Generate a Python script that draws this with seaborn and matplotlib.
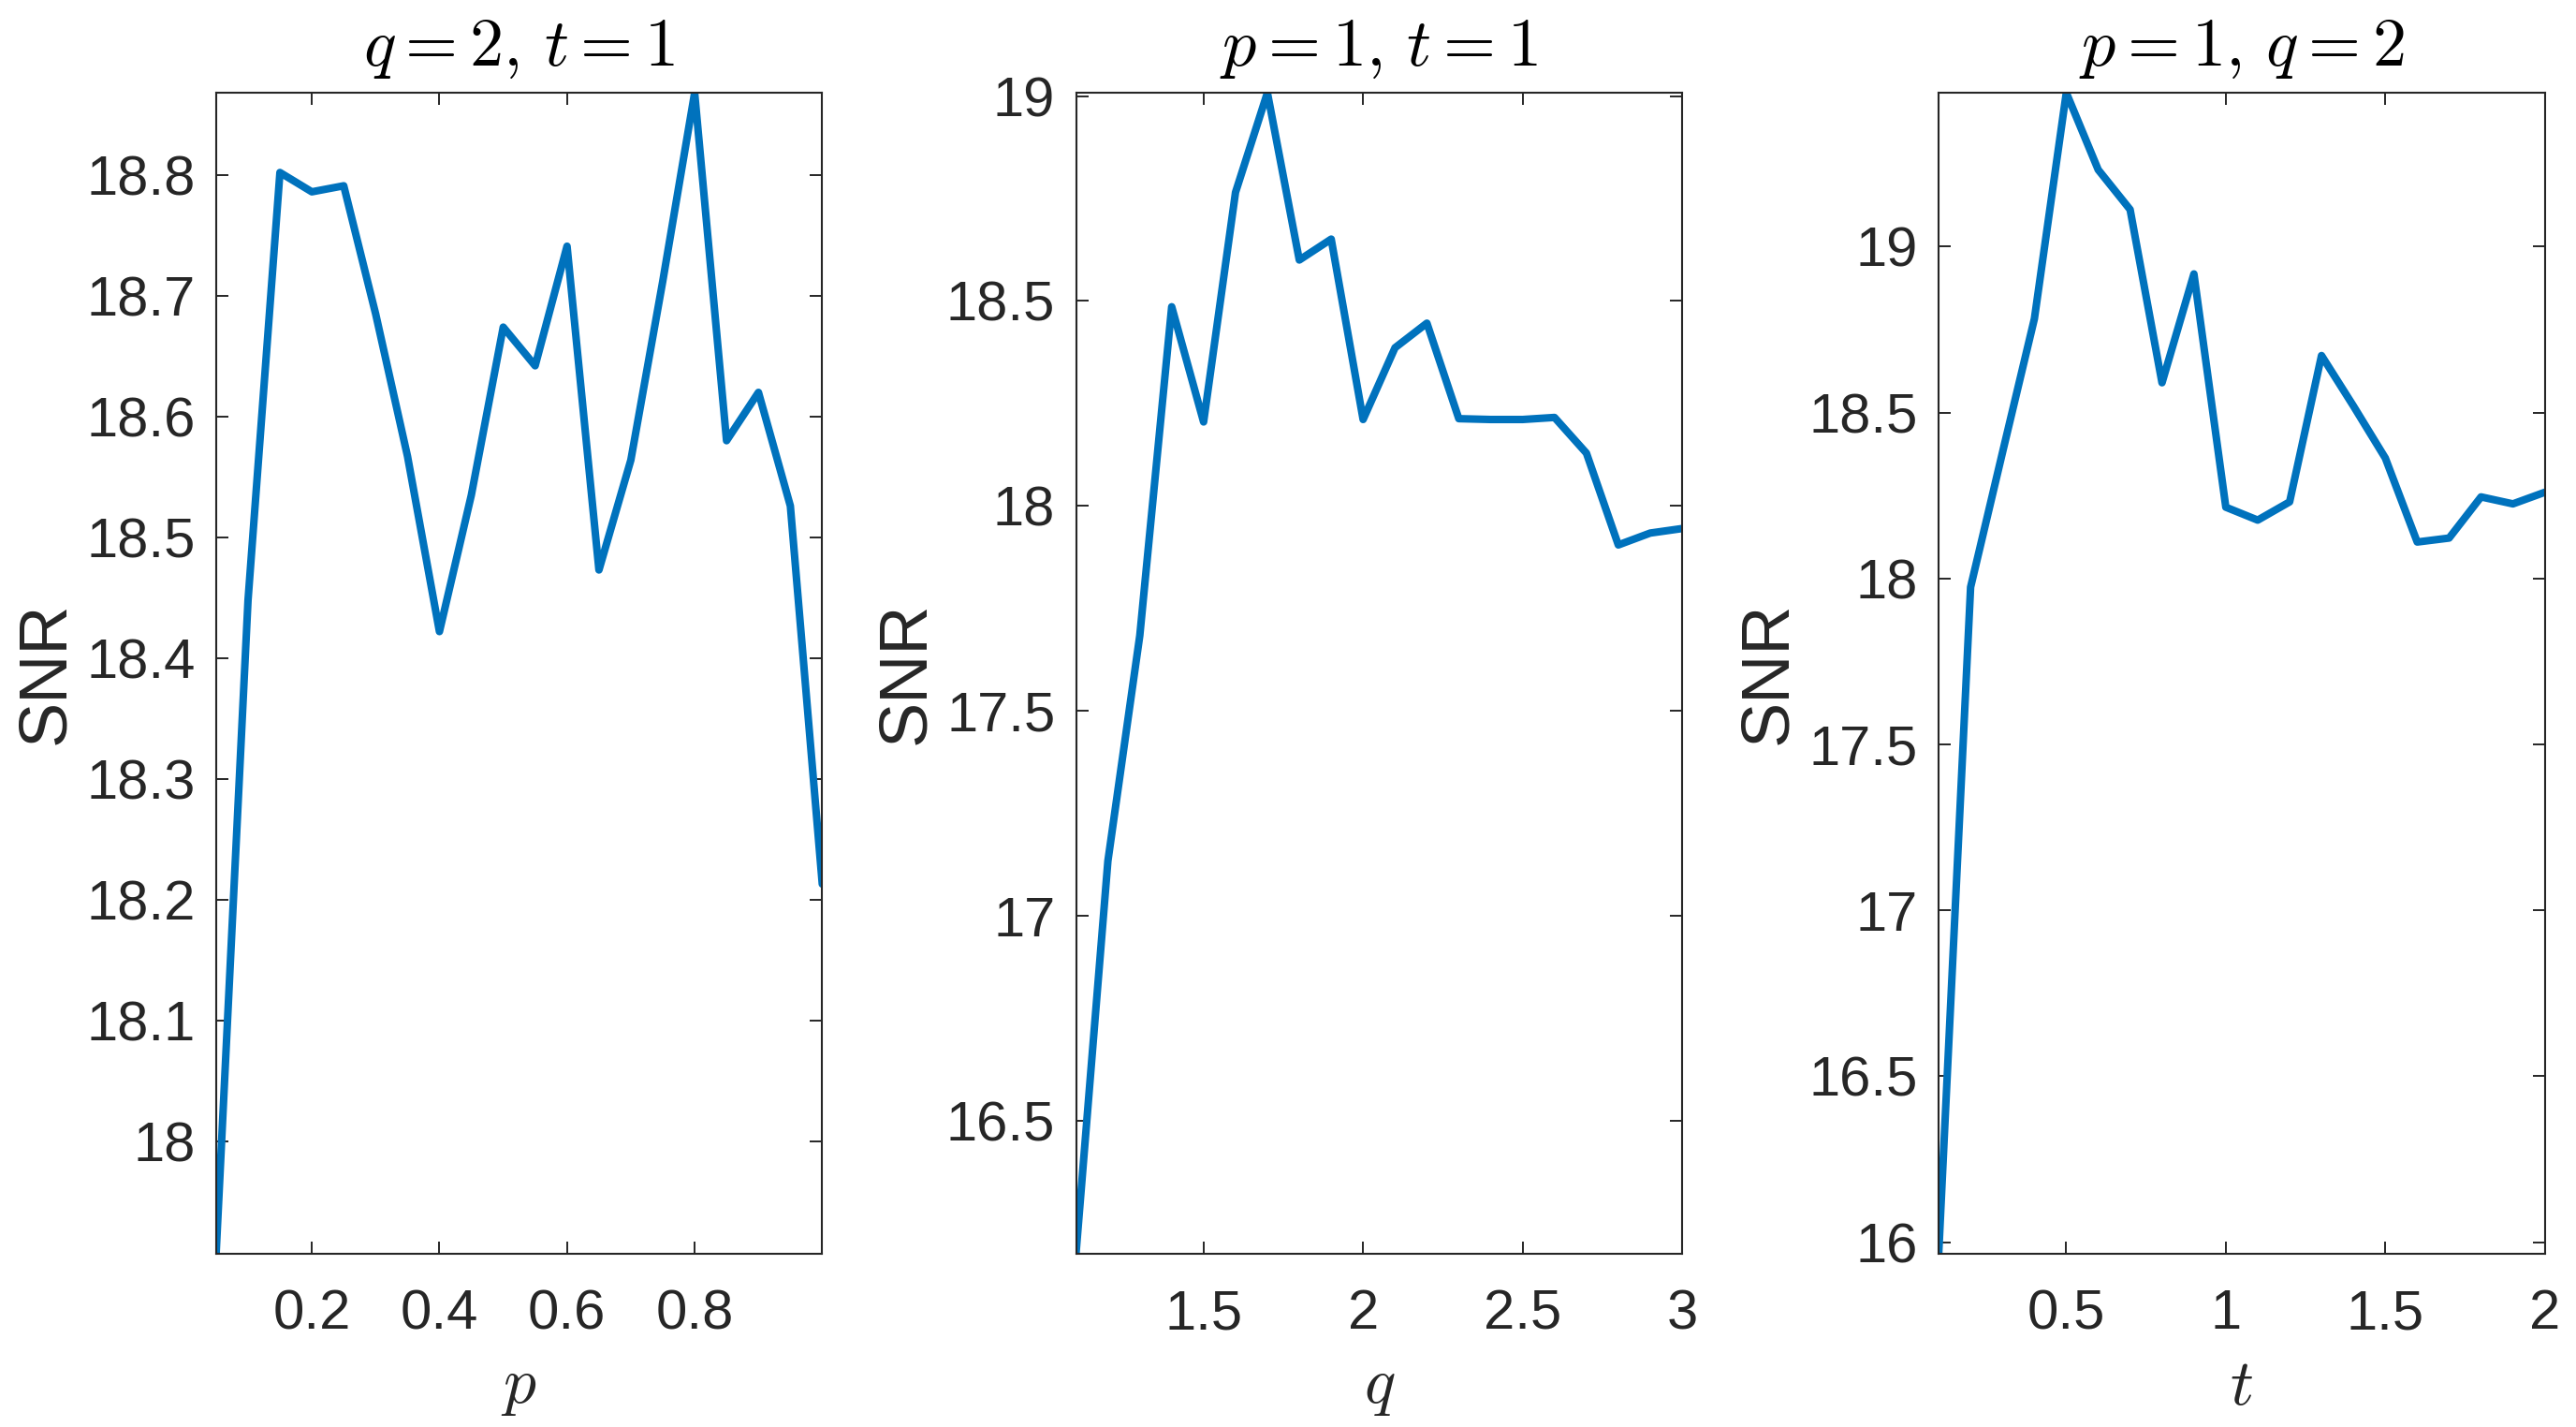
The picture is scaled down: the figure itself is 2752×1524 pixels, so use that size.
import seaborn as sns
import matplotlib.pyplot as plt
import pandas as pd
from matplotlib.ticker import FuncFormatter

# sweep values
p_vals = [0.05, 0.10, 0.15, 0.20, 0.25, 0.30, 0.35, 0.40, 0.45, 0.50,
          0.55, 0.60, 0.65, 0.70, 0.75, 0.80, 0.85, 0.90, 0.95, 1.00]
snr_p = [17.907, 18.448, 18.802, 18.786, 18.791, 18.685, 18.567, 18.422, 18.535, 18.674,
         18.642, 18.741, 18.473, 18.564, 18.712, 18.868, 18.580, 18.620, 18.526, 18.213]

q_vals = [1.1, 1.2, 1.3, 1.4, 1.5, 1.6, 1.7, 1.8, 1.9, 2.0,
          2.1, 2.2, 2.3, 2.4, 2.5, 2.6, 2.7, 2.8, 2.9, 3.0]
snr_q = [16.176, 17.134, 17.684, 18.486, 18.205, 18.765, 19.008, 18.600, 18.651, 18.211,
         18.386, 18.446, 18.213, 18.211, 18.211, 18.216, 18.129, 17.905, 17.934, 17.945]

t_vals = [0.1, 0.2, 0.3, 0.4, 0.5, 0.6, 0.7, 0.8, 0.9, 1.0,
          1.1, 1.2, 1.3, 1.4, 1.5, 1.6, 1.7, 1.8, 1.9, 2.0]
snr_t = [15.965, 17.974, 18.380, 18.783, 19.464, 19.232, 19.112, 18.590, 18.918, 18.215,
         18.176, 18.231, 18.672, 18.520, 18.363, 18.110, 18.122, 18.246, 18.225, 18.260]

titles = [r'$q=2,\,t=1$', r'$p=1,\,t=1$', r'$p=1,\,q=2$']
xlabels = [r'$p$', r'$q$', r'$t$']
xticks = [[0.2, 0.4, 0.6, 0.8], [1.5, 2, 2.5, 3], [0.5, 1, 1.5, 2]]
yticks = [[18.0, 18.1, 18.2, 18.3, 18.4, 18.5, 18.6, 18.7, 18.8],
          [16.5, 17, 17.5, 18, 18.5, 19],
          [16, 16.5, 17, 17.5, 18, 18.5, 19]]

sns.set_style("ticks")
plt.rcParams['font.family'] = ['Liberation Sans', 'DejaVu Sans']
plt.rcParams['mathtext.fontset'] = 'cm'

fig = plt.figure(figsize=(27.52, 15.24), dpi=100)
lefts = [0.0839, 0.4177, 0.7526]

series = [(p_vals, snr_p), (q_vals, snr_q), (t_vals, snr_t)]
for i, (xs, ys) in enumerate(series):
    ax = fig.add_axes([lefts[i], 0.1214, 0.2353, 0.8136])
    df = pd.DataFrame({'x': xs, 'snr': ys})
    sns.lineplot(data=df, x='x', y='snr', ax=ax, color='#0072BD', linewidth=5.8)
    ax.set_xlim(min(xs), max(xs))
    ax.set_ylim(min(ys), max(ys))
    ax.set_xticks(xticks[i])
    ax.set_yticks(yticks[i])
    fmt = FuncFormatter(lambda v, pos: ('%g' % round(v, 2)))
    ax.xaxis.set_major_formatter(fmt)
    ax.yaxis.set_major_formatter(fmt)
    ax.tick_params(axis='both', direction='in', length=9.5, width=1.4,
                   labelsize=43, colors='#262626', top=True, right=True)
    ax.tick_params(axis='x', pad=27)
    ax.tick_params(axis='y', pad=16)
    for s in ax.spines.values():
        s.set_linewidth(1.5)
        s.set_color('#262626')
    ax.set_title(titles[i], fontsize=52, pad=21, color='black')
    ax.set_xlabel(xlabels[i], fontsize=50, labelpad=13, color='#262626')
    ax.set_ylabel('SNR', fontsize=52, color='#262626')
    ax.yaxis.set_label_coords(-0.228, 0.5)

plt.savefig('out.png', dpi=100)
